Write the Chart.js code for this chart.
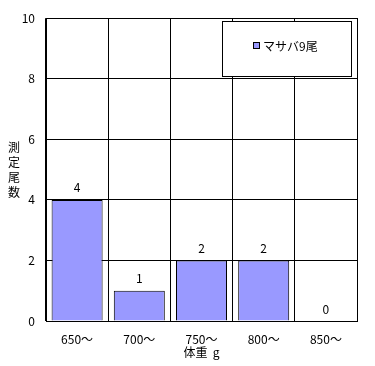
<!DOCTYPE html>
<html>
<head>
<meta charset="utf-8">
<script src="https://cdn.jsdelivr.net/npm/chart.js@4/dist/chart.umd.min.js"></script>
<style>
    html, body { margin: 0; padding: 0; background: #fff; }
    #wrap { width: 375px; height: 366px; }
</style>
</head>
<body>
<div id="wrap"><canvas id="chart" width="375" height="366"></canvas></div>
<script>
const categories = ['650～', '700～', '750～', '800～', '850～'];
const counts = [4, 1, 2, 2, 0];
const yTicks = [0, 2, 4, 6, 8, 10];
const seriesName = 'マサバ9尾';
const xTitle = '体重  g';
const yTitle = ['測', '定', '尾', '数'];

const FONT = "'Noto Sans CJK JP', 'DejaVu Sans', sans-serif";

// frame, value labels, axis titles and the boxed legend
const decorations = {
    id: 'decorations',
    afterDatasetsDraw(chart) {
        const { ctx, chartArea: a } = chart;
        ctx.save();
        ctx.strokeStyle = '#000';
        ctx.lineWidth = 1;
        ctx.strokeRect(Math.round(a.left) + 0.5, Math.round(a.top) + 0.5, Math.round(a.right - a.left), Math.round(a.bottom - a.top));

        ctx.fillStyle = '#000';
        ctx.font = '12px ' + FONT;
        ctx.textAlign = 'center';
        ctx.textBaseline = 'middle';
        const meta = chart.getDatasetMeta(0);
        meta.data.forEach((bar, i) => {
            ctx.fillText(String(counts[i]), bar.x, bar.y - 12);
        });

        ctx.fillText(xTitle, (a.left + a.right) / 2, 352);

        // vertical y title, one glyph per line
        for (let i = 0; i < yTitle.length; i++) {
            ctx.textAlign = 'center';
            ctx.fillText(yTitle[i], 14, 147 + i * 15);
        }

        // legend box
        const lx = 222, ly = 21, lw = 129, lh = 55;
        ctx.fillStyle = '#fff';
        ctx.fillRect(lx, ly, lw, lh);
        ctx.strokeRect(lx + 0.5, ly + 0.5, lw, lh);
        ctx.fillStyle = '#9999ff';
        ctx.fillRect(253, 42, 7, 7);
        ctx.strokeRect(253.5, 42.5, 6, 6);
        ctx.fillStyle = '#000';
        ctx.textAlign = 'left';
        ctx.fillText(seriesName, 263, 46);
        ctx.restore();
    }
};

new Chart(document.getElementById('chart'), {
    type: 'bar',
    data: {
        labels: categories,
        datasets: [{
            label: seriesName,
            data: counts,
            backgroundColor: '#9999ff',
            borderColor: '#000',
            borderWidth: 1,
            barPercentage: 0.82,
            categoryPercentage: 1
        }]
    },
    options: {
        responsive: false,
        animation: false,
        layout: { padding: { top: 18, right: 18, bottom: 0, left: 0 } },
        plugins: { legend: { display: false }, tooltip: { enabled: false } },
        scales: {
            x: {
                grid: { color: '#000', lineWidth: 1, offset: true, drawTicks: false },
                border: { color: '#000' },
                ticks: { color: '#000', font: { family: FONT, size: 12 }, padding: 11 },
                afterFit: (scale) => { scale.height = 45; }
            },
            y: {
                min: 0,
                max: 10,
                afterBuildTicks: (scale) => { scale.ticks = yTicks.map((v) => ({ value: v })); },
                grid: { color: '#000', lineWidth: 1, drawTicks: false },
                border: { color: '#000' },
                ticks: { color: '#000', font: { family: FONT, size: 12 }, padding: 11 },
                afterFit: (scale) => { scale.width = 46; }
            }
        }
    },
    plugins: [decorations]
});
</script>
</body>
</html>
